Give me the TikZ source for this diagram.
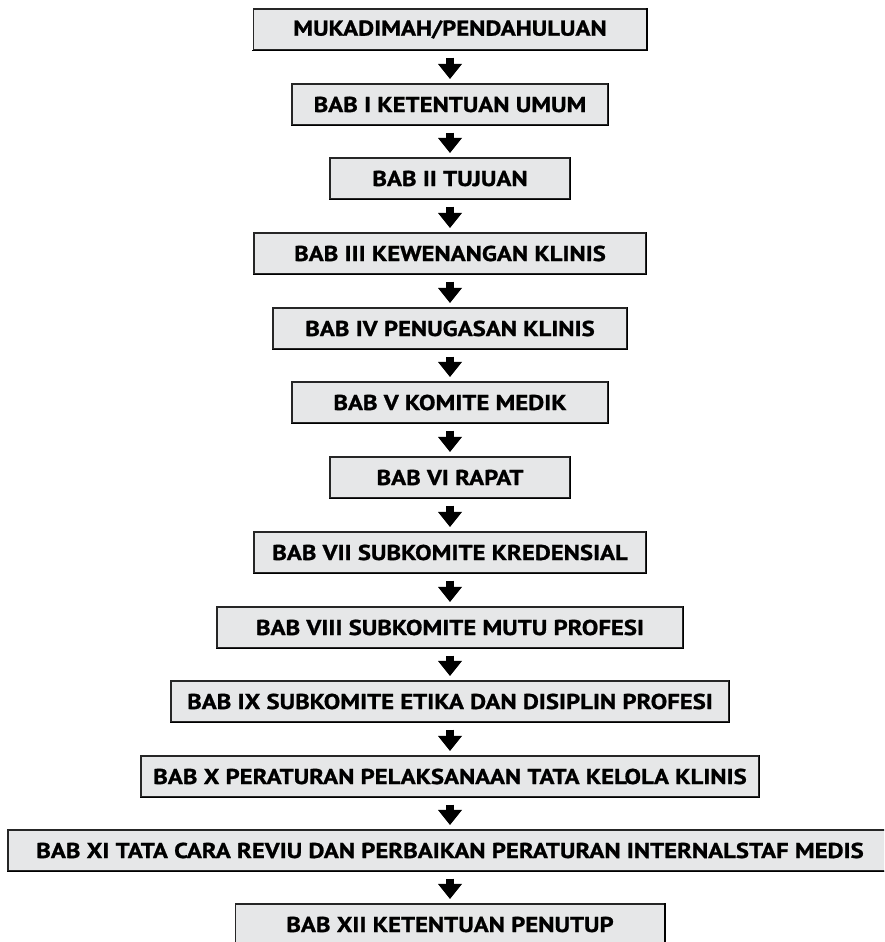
\documentclass[tikz,border=0pt]{standalone}
\usepackage{fontspec}
\setmainfont{PT Sans}[FakeStretch=1.15,FakeBold=1.0]
\usetikzlibrary{arrows.meta}
\definecolor{boxfill}{RGB}{230,231,232}
\tikzset{
  chapter/.style={draw=black!85, line width=1.1pt, fill=boxfill, inner sep=0pt,
    minimum height=41pt, align=center,
    font=\fontsize{21.5}{21.5}\selectfont\bfseries},
  flow/.style={line width=8pt, -{Triangle[width=24pt,length=15pt,line width=0pt]},
    shorten <=7pt, shorten >=4.5pt},
  rim/.style={line width=1.8pt, line cap=rect}
}
\newcommand{\chapterbox}[4]{% name, top y, width, text
  \node[chapter, minimum width=#3pt] (#1) at (450,#2+20.5) {#4};
  \draw[rim] (#1.north east) -- (#1.south east) -- (#1.south west);
}
\begin{document}
\begin{tikzpicture}[x=1pt,y=-1pt]
\useasboundingbox (0,0) rectangle (884,942);
\clip (0,0) rectangle (884,942);
\chapterbox{b0}{9}{393}{MUKADIMAH/PENDAHULUAN}
\chapterbox{b1}{84}{316}{BAB I KETENTUAN UMUM}
\chapterbox{b2}{158}{240}{BAB II TUJUAN}
\chapterbox{b3}{233}{392}{BAB III KEWENANGAN KLINIS}
\chapterbox{b4}{308}{354}{BAB IV PENUGASAN KLINIS}
\chapterbox{b5}{382}{316}{BAB V KOMITE MEDIK}
\chapterbox{b6}{457}{240}{BAB VI RAPAT}
\chapterbox{b7}{532}{392}{BAB VII SUBKOMITE KREDENSIAL}
\chapterbox{b8}{607}{466}{BAB VIII SUBKOMITE MUTU PROFESI}
\chapterbox{b9}{681}{558}{BAB IX SUBKOMITE ETIKA DAN DISIPLIN PROFESI}
\chapterbox{b10}{756}{618}{BAB X PERATURAN PELAKSANAAN TATA KELOLA KLINIS}
\chapterbox{b11}{830}{884}{BAB XI TATA CARA REVIU DAN PERBAIKAN PERATURAN INTERNALSTAF MEDIS}
\chapterbox{b12}{904}{429}{BAB XII KETENTUAN PENUTUP}
\foreach \a/\b in {b0/b1,b1/b2,b2/b3,b3/b4,b4/b5,b5/b6,b6/b7,b7/b8,b8/b9,b9/b10,b10/b11,b11/b12}
  \draw[flow] (\a) -- (\b);
\end{tikzpicture}
\end{document}
